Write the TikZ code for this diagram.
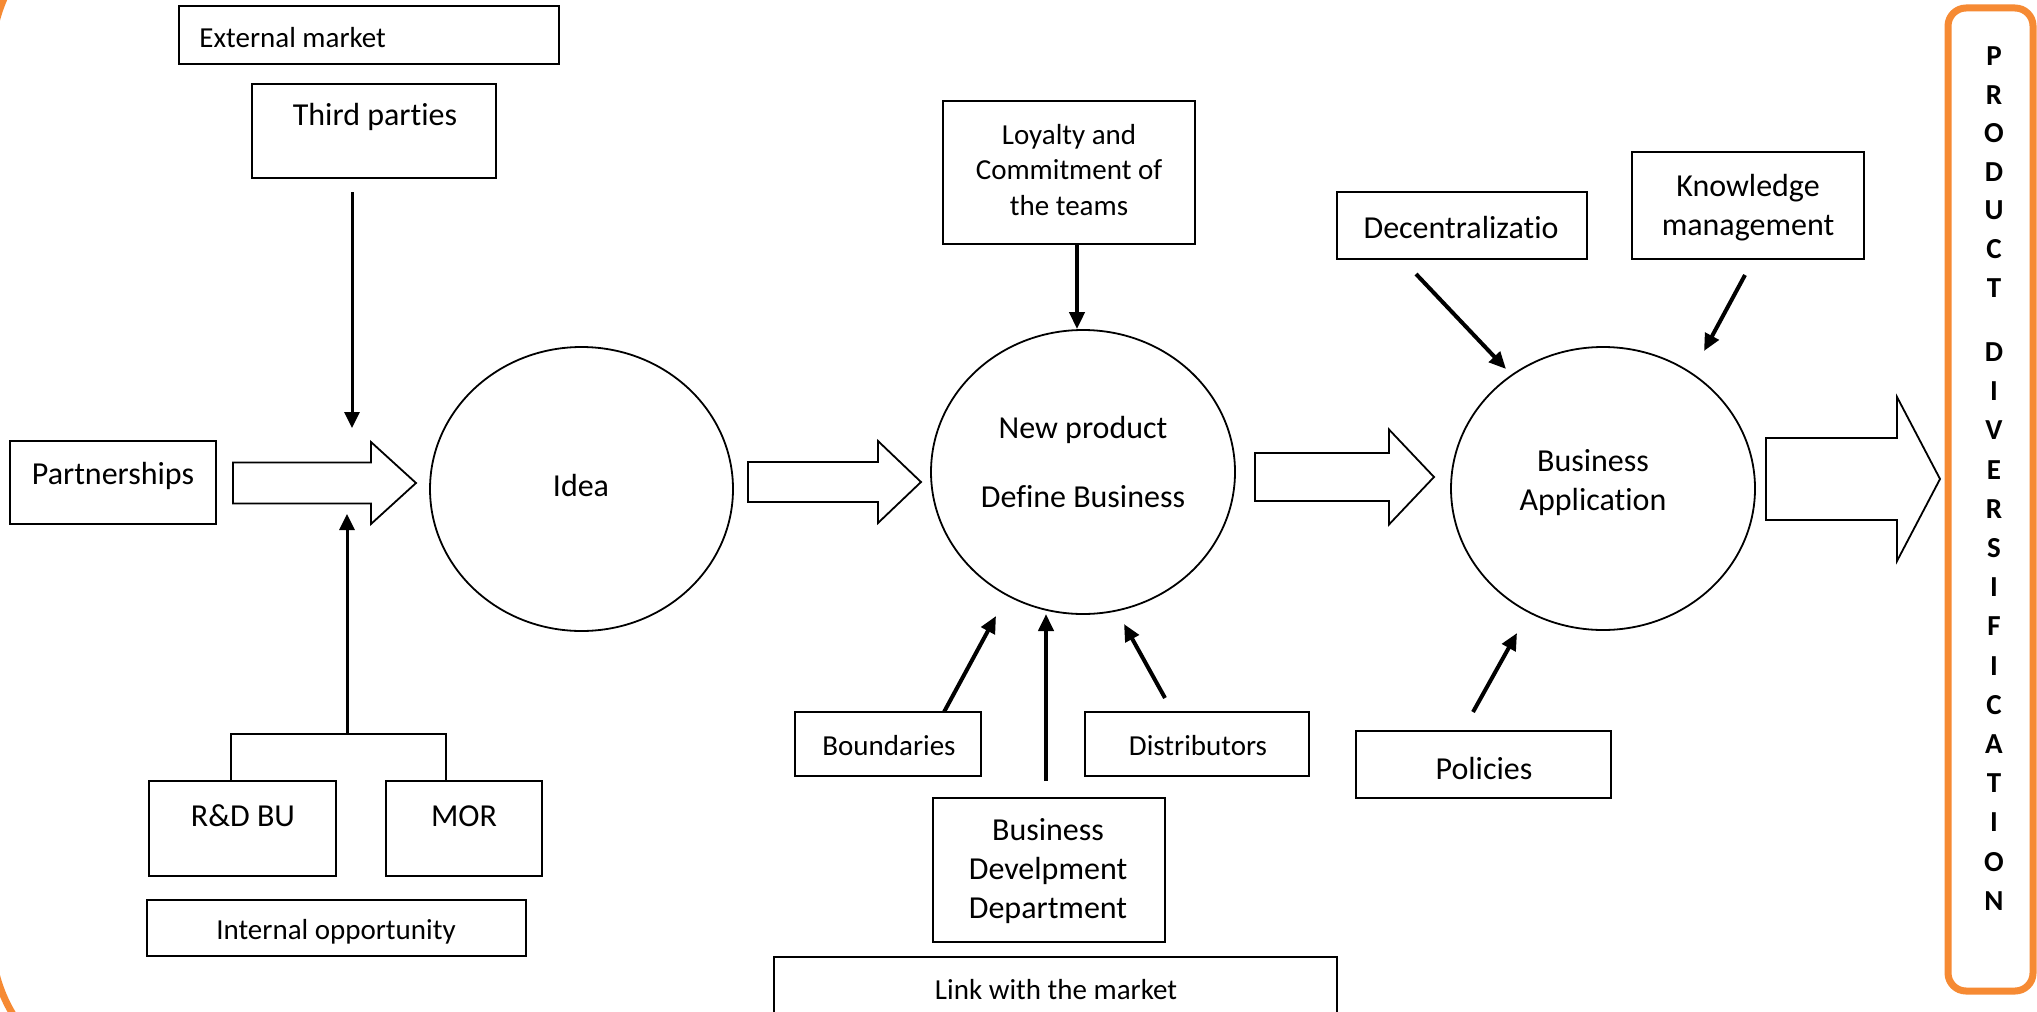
\documentclass[tikz,border=0pt]{standalone}
\usepackage{fontspec}
\setmainfont{Carlito}[Ligatures=NoCommon]
\usetikzlibrary{arrows.meta,shapes.geometric,fit}
\definecolor{orng}{RGB}{246,138,51}
\tikzset{
  boxn/.style={draw, line width=1pt, inner sep=0pt},
  big/.style={font=\fontsize{16}{19.5}\selectfont, align=center, inner sep=0pt, yshift=-1.5pt},
  small/.style={font=\fontsize{14.5}{17.8}\selectfont, align=center, inner sep=0pt, yshift=-1.5pt},
  ovalshape/.style={draw, ellipse, line width=0.9pt, inner sep=0pt},
  thinarr/.style={line width=1.5pt, -{Triangle[length=8pt,width=7.5pt]}},
  thickarr/.style={line width=2pt, -{Triangle[length=8.5pt,width=7.5pt]}},
  blockar/.style={draw, line width=0.9pt, line join=miter},
  vletter/.style={font=\fontsize{14.5}{14.5}\bfseries\selectfont, inner sep=0pt},
}
\begin{document}
\begin{tikzpicture}[x=0.5pt,y=-0.5pt]
\useasboundingbox (0,0) rectangle (2037,1011);
\clip (0,0) rectangle (2037,1011);
\fill[white] (0,0) rectangle (2037,1011);

% large orange frame fragment on the left
\draw[orng, line width=3.5pt, rounded corners=75pt] (400,-91.4) -- (-8.5,-91.4) -- (-8.5,1087) -- (400,1087);

% left part
\node[boxn, fit={(179,6)(559,64)}] (ext) {};
\node[small, anchor=west] (extT) at (199,35) {External market};
\node[boxn, fit={(252,84)(496,178)}] (tp) {};
\node[big] (tpT) at (375,114) {Third parties};
\node[boxn, fit={(10,441)(216,524)}] (part) {};
\node[big] (partT) at (113,473) {Partnerships};
\node[boxn, fit={(149,781)(336,876)}] (rd) {};
\node[big] (rdT) at (243,813) {R\&D BU};
\node[boxn, fit={(386,781)(542,876)}] (mor) {};
\node[big] (morT) at (464,813) {MOR};
\node[boxn, fit={(147,900)(526,956)}] (intop) {};
\node[small] (intT) at (336,929) {Internal opportunity};

\coordinate (a1s) at (352,192);
\coordinate (a1e) at (352,428);
\draw[thinarr] (a1s) -- (a1e);
\coordinate (brl) at (231,734);
\coordinate (brr) at (446,734);
\draw[line width=0.9pt] (brl |- rd.north) -- (brl) -- (brr) -- (brr |- mor.north);
\coordinate (a2s) at (347,734);
\coordinate (a2e) at (347,514);
\draw[thinarr] (a2s) -- (a2e);

\draw[blockar] (233,462.5) -- (371,462.5) -- (371,442) -- (416,483) -- (371,524) -- (371,503.5) -- (233,503.5) -- cycle;

\node[ovalshape, minimum width=151.5pt, minimum height=142pt] (idea) at (581.5,489) {};
\node[big] (ideaT) at (581,483) {Idea};

\draw[blockar] (748,462) -- (878,462) -- (878,441) -- (921,482) -- (878,523) -- (878,502) -- (748,502) -- cycle;

% middle part
\node[boxn, fit={(943,101)(1195,244)}] (loy) {};
\node[small] (loyT) at (1069,167) {Loyalty and\\Commitment of\\the teams};
\node[ovalshape, minimum width=152pt, minimum height=142pt] (np) at (1083,472) {};
\node[big] (npT1) at (1083,427) {New product};
\node[big] (npT2) at (1083,494) {Define Business};
\draw[thickarr] (loy.south -| 1077,0) -- (np.north -| 1077,0);

\node[boxn, fit={(795,712)(981,776)}] (bound) {};
\node[small] (boundT) at (889,743) {Boundaries};
\node[boxn, fit={(1085,712)(1309,776)}] (dist) {};
\node[small] (distT) at (1198,743) {Distributors};
\node[boxn, fit={(933,798)(1165,942)}] (bdd) {};
\node[big] (bddT) at (1048,868) {Business\\Develpment\\Department};
\node[boxn, fit={(774,957)(1337,1030)}] (link) {};
\node[small] (linkT) at (1056,987) {Link with the market};

\coordinate (a4s) at (944,712);
\coordinate (a4e) at (996,616);
\draw[thickarr] (a4s) -- (a4e);
\coordinate (a5s) at (1046,781);
\coordinate (a5e) at (1046,614);
\draw[thickarr] (a5s) -- (a5e);
\coordinate (a6s) at (1165,698);
\coordinate (a6e) at (1124,624);
\draw[thickarr] (a6s) -- (a6e);

\draw[blockar] (1255,453) -- (1389,453) -- (1389,429.5) -- (1434,477) -- (1389,524.5) -- (1389,501) -- (1255,501) -- cycle;

% right part
\node[ovalshape, minimum width=152pt, minimum height=141.5pt] (ba) at (1603,488.5) {};
\node[big] (baT) at (1593,480) {Business\\Application};
\node[boxn, fit={(1337,192)(1587,259)}] (dec) {};
\node[big] (decT) at (1461,225) {Decentralizatio};
\node[boxn, fit={(1632,152)(1864,259)}] (know) {};
\node[big] (knowT) at (1748,205) {Knowledge\\management};
\node[boxn, fit={(1356,731)(1611,798)}] (pol) {};
\node[big] (polT) at (1484,765) {Policies};

\coordinate (a7s) at (1416,274);
\coordinate (a7e) at (1506,369);
\draw[thickarr] (a7s) -- (a7e);
\coordinate (a8s) at (1745,275);
\coordinate (a8e) at (1704,351);
\draw[thickarr] (a8s) -- (a8e);
\coordinate (a9s) at (1473,712);
\coordinate (a9e) at (1517,633);
\draw[thickarr] (a9s) -- (a9e);

\draw[blockar] (1766,438) -- (1897,438) -- (1897,397) -- (1940,479) -- (1897,561) -- (1897,520) -- (1766,520) -- cycle;

% product diversification
\node[draw=orng, line width=3.5pt, rounded corners=9pt, inner sep=0pt, fit={(1948,8)(2033,991)}] (pd) {};
\foreach \ch [count=\i] in {P,R,O,D,U,C,T}
  \node[vletter] (la\i) at (1994,{56+38.6*(\i-1)}) {\ch};
\foreach \ch [count=\i] in {D,I,V,E,R,S,I,F,I,C,A,T,I,O,N}
  \node[vletter] (lb\i) at (1994,{352+39.2*(\i-1)}) {\ch};
\end{tikzpicture}
\end{document}
